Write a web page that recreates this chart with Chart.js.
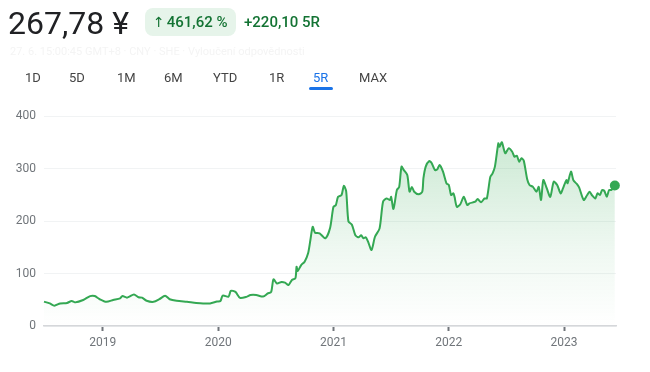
<!DOCTYPE html>
<html>
<head>
<meta charset="utf-8">
<script src="https://cdn.jsdelivr.net/npm/chart.js@4/dist/chart.umd.min.js"></script>
<style>
  html, body { margin:0; padding:0; background:#fff; width:650px; height:372px; overflow:hidden; font-family: Roboto, "Noto Sans", sans-serif; }
  #wrap { position:relative; width:650px; height:372px; }
  canvas { position:absolute; left:0; top:0; }
  .abs { position:absolute; white-space:nowrap; }
  #price { left:8px; top:3px; font-size:32px; color:#202124; line-height:40px; }
  #badge { left:145px; top:8px; width:91px; height:28px; background:#e6f4ea; border-radius:8px; }
  #pct { left:153px; top:11px; font-size:15px; line-height:22px; color:#137333; font-weight:500; }
  #pct .ar { font-family:"DejaVu Sans", sans-serif; font-weight:400; font-size:14px; margin-right:2px; }
  #chg { left:244px; top:11px; font-size:15px; line-height:22px; color:#137333; font-weight:500; }
  #sub { left:10px; top:45px; font-size:11px; color:#f4f4f4; }
  .tab { position:absolute; top:69px; font-size:13px; line-height:18px; color:#444; }
  .tab.sel { color:#1a73e8; }
  #uline { left:309px; top:87px; width:24px; height:2.5px; background:#1a73e8; border-radius:2px; }
</style>
</head>
<body>
<div id="wrap">
  <canvas id="c" width="650" height="372"></canvas>
  <div class="abs" id="price">267,78 ¥</div>
  <div class="abs" id="badge"></div>
  <div class="abs" id="pct"><span class="ar">↑</span>461,62 %</div>
  <div class="abs" id="chg">+220,10 5R</div>
  <div class="abs" id="sub">27. 6. 15:00:45 GMT+8 · CNY · SHE · Vyloučení odpovědnosti</div>
  <div id="tabs"></div>
  <div class="abs" id="uline"></div>
</div>
<script>
// Time (decimal year) and closing price
const dates = [
  2018.49,2018.54,2018.58,2018.63,2018.69,2018.73,2018.76,2018.83,2018.89,2018.93,2018.97,
  2019.03,2019.09,2019.15,2019.17,2019.21,2019.23,2019.27,2019.31,2019.34,2019.38,2019.44,2019.49,
  2019.54,2019.58,2019.64,2019.73,2019.81,2019.87,2019.93,2019.99,
  2020.02,2020.04,2020.09,2020.11,2020.15,2020.19,2020.25,2020.28,2020.33,2020.39,2020.43,2020.46,
  2020.48,2020.51,2020.55,2020.58,2020.61,2020.64,2020.67,2020.68,2020.69,2020.72,2020.75,2020.78,
  2020.80,2020.82,2020.84,2020.88,2020.93,2020.97,
  2021.00,2021.02,2021.04,2021.07,2021.09,2021.11,2021.13,2021.16,2021.19,2021.22,2021.24,2021.26,
  2021.28,2021.30,2021.33,2021.36,2021.40,2021.43,2021.46,2021.49,2021.50,2021.52,2021.55,2021.57,
  2021.59,2021.61,2021.64,2021.66,2021.68,2021.70,2021.74,2021.77,2021.78,2021.80,2021.83,2021.85,
  2021.88,2021.90,2021.92,2021.95,2021.98,
  2022.00,2022.02,2022.04,2022.05,2022.07,2022.10,2022.13,2022.16,2022.18,2022.23,2022.25,2022.28,
  2022.31,2022.33,2022.36,2022.38,2022.40,2022.43,2022.44,2022.46,2022.49,2022.52,2022.55,2022.57,
  2022.59,2022.61,2022.63,2022.65,2022.68,2022.70,2022.73,2022.76,2022.78,2022.80,2022.82,2022.85,
  2022.88,2022.91,2022.94,2022.97,2022.99,
  2023.02,2023.03,2023.06,2023.08,2023.11,2023.13,2023.17,2023.20,2023.22,2023.24,2023.27,2023.29,
  2023.31,2023.33,2023.35,2023.37,2023.39,2023.41,2023.44
];
const prices = [
  46.5,43,38.7,43,44,47.6,45,49.5,57,57,51.4,
  46,49.5,52.7,57,54,56,60,54.7,54,48,46,51,
  57.7,51,48,46,44,43,43,46.5,
  47.6,58,56,67,65,53.5,56,59,59,56,62,65,
  89,81,84,82.5,78,87.6,91,113,104.8,116,122.5,138.4,
  163.8,189,177.8,176.5,167,186,
  227,230,246,249.5,267,257,199,193,173,169,173,167,
  169,160.6,144.8,170,186,236.8,243,240,246,222.9,259,265,
  303.5,297,287.6,255.8,265,255.8,250.8,255.8,281,303.5,314,311,
  297,298.4,306.7,294,271.8,
  268.6,249.5,252.7,246,227,232,246,230.5,233.7,236.8,242,235.6,
  243,243,284,290.8,303.5,348,341.5,350,329,338.5,332,322.5,
  324.4,313,319.4,315,279.4,268.6,265,255.8,265,240,278,262,
  246,274.9,268.6,252.7,262,
  278,271.8,294,278,270.5,264,240,249.5,255.8,249.5,243,252.7,
  249.5,259,257,246,259,259,267.78
];
const yearTicks = [2019, 2020, 2021, 2022, 2023];
const valueTicks = [0, 100, 200, 300, 400];
const rangeTabs = ["1D","5D","1M","6M","YTD","1R","5R","MAX"];
const selectedTab = "5R";

const tabLeft = [25, 69, 117, 164, 213, 269, 313, 359];
const tabsEl = document.getElementById('tabs');
rangeTabs.forEach((t, i) => {
  const s = document.createElement('span');
  s.className = 'tab' + (t === selectedTab ? ' sel' : '');
  s.style.left = tabLeft[i] + 'px';
  s.textContent = t;
  tabsEl.appendChild(s);
});

const GREEN = '#34a853';
const pts = dates.map((d, i) => ({ x: d, y: prices[i] }));

new Chart(document.getElementById('c'), {
  type: 'line',
  data: {
    datasets: [{
      data: pts,
      clip: false,
      borderColor: GREEN,
      borderWidth: 2,
      tension: 0.25,
      fill: 'origin',
      backgroundColor: (ctx) => {
        const ca = ctx.chart.chartArea;
        if (!ca) return 'rgba(52,168,83,0.15)';
        const g = ctx.chart.ctx.createLinearGradient(0, ca.top + 20, 0, ca.bottom);
        g.addColorStop(0, 'rgba(52,168,83,0.26)');
        g.addColorStop(0.6, 'rgba(52,168,83,0.08)');
        g.addColorStop(1, 'rgba(52,168,83,0)');
        return g;
      },
      pointRadius: (ctx) => ctx.dataIndex === pts.length - 1 ? 5 : 0,
      pointBackgroundColor: GREEN,
      pointBorderColor: GREEN,
      pointBorderWidth: 0,
      pointHoverRadius: 0
    }]
  },
  options: {
    responsive: false,
    animation: false,
    events: [],
    layout: { padding: { top: 116, right: 34, left: 0, bottom: 0 } },
    plugins: { legend: { display: false }, tooltip: { enabled: false } },
    scales: {
      x: {
        type: 'linear',
        min: 2018.49,
        max: 2023.45,
        afterBuildTicks: (s) => { s.ticks = yearTicks.map(v => ({ value: v })); },
        afterFit: (s) => { s.height = 46; },
        border: { display: true, color: '#d5d7da', width: 1.5 },
        grid: { display: true, drawOnChartArea: false, drawTicks: true, tickLength: 5, tickColor: '#70757a', tickWidth: 2 },
        ticks: { padding: 5, color: '#70757a', font: { family: 'Roboto', size: 12 }, maxRotation: 0, callback: (v) => String(v) }
      },
      y: {
        min: 0,
        max: 400,
        afterBuildTicks: (s) => { s.ticks = valueTicks.map(v => ({ value: v })); },
        afterFit: (s) => { s.width = 44; },
        border: { display: false },
        grid: { color: '#f1f3f4', lineWidth: 1, drawTicks: false },
        ticks: { padding: 8, color: '#70757a', font: { family: 'Roboto', size: 12 } }
      }
    }
  }
});
</script>
</body>
</html>
